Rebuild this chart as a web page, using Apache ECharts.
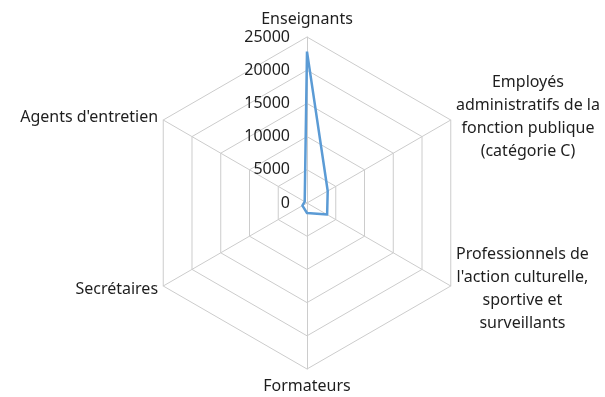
<!DOCTYPE html>
<html>
<head>
<meta charset="utf-8">
<script src="https://cdn.jsdelivr.net/npm/echarts@6/dist/echarts.min.js"></script>
<style>
  html, body { margin: 0; padding: 0; background: #fff; }
  #chart { width: 605px; height: 397px; }
</style>
</head>
<body>
<div id="chart"></div>
<script>
var radarChart = echarts.init(document.getElementById("chart"));

// categories and values (clockwise from the top)
var categories = [
  "Enseignants",
  "Employés\nadministratifs de la\nfonction publique\n(catégorie C)",
  "Professionnels de\nl'action culturelle,\nsportive et\nsurveillants",
  "Formateurs",
  "Secrétaires",
  "Agents d'entretien",
];
var values = [22800, 3600, 3500, 1500, 800, 400];
var axisMax = 25000;

// echarts lays indicators out counter-clockwise, so keep the first and reverse the rest
var order = [0, 5, 4, 3, 2, 1];

var indicators = order.map(function (k, i) {
  var ind = { name: categories[k], max: axisMax, min: 0 };
  if (i === 0) {
    ind.axisLabel = { show: true }; // only the first spoke carries tick labels
  }
  return ind;
});
var orderedValues = order.map(function (k) {
  return values[k];
});

var textColor = "#1e1e1e";

var radarOption = {
  animation: false,
  radar: {
    center: [307, 203],
    radius: 166,
    startAngle: 90,
    splitNumber: 5,
    shape: "polygon",
    indicator: indicators,
    axisName: {
      color: textColor,
      fontFamily: "Noto Sans",
      fontSize: 16,
      formatter: function (name) {
        // centre each line inside its block
        return name
          .split("\n")
          .map(function (line) {
            return "{c|" + line + "}";
          })
          .join("\n");
      },
      rich: {
        c: {
          align: "center",
          color: textColor,
          fontFamily: "Noto Sans",
          fontSize: 16,
          lineHeight: 23,
        },
      },
    },
    nameGap: 6,
    axisLine: { lineStyle: { color: "#cccccc", width: 1 } },
    splitLine: { lineStyle: { color: "#cccccc", width: 1 } },
    splitArea: { show: false },
    axisTick: { show: false },
    axisLabel: {
      show: false,
      color: textColor,
      fontFamily: "Noto Sans",
      fontSize: 16,
      margin: 17,
      formatter: function (v) {
        return String(v);
      },
    },
  },
  series: [
    {
      type: "radar",
      symbol: "none",
      lineStyle: { color: "#5b9bd5", width: 2.5 },
      data: [{ value: orderedValues }],
    },
  ],
};
radarChart.setOption(radarOption);
</script>
</body>
</html>
